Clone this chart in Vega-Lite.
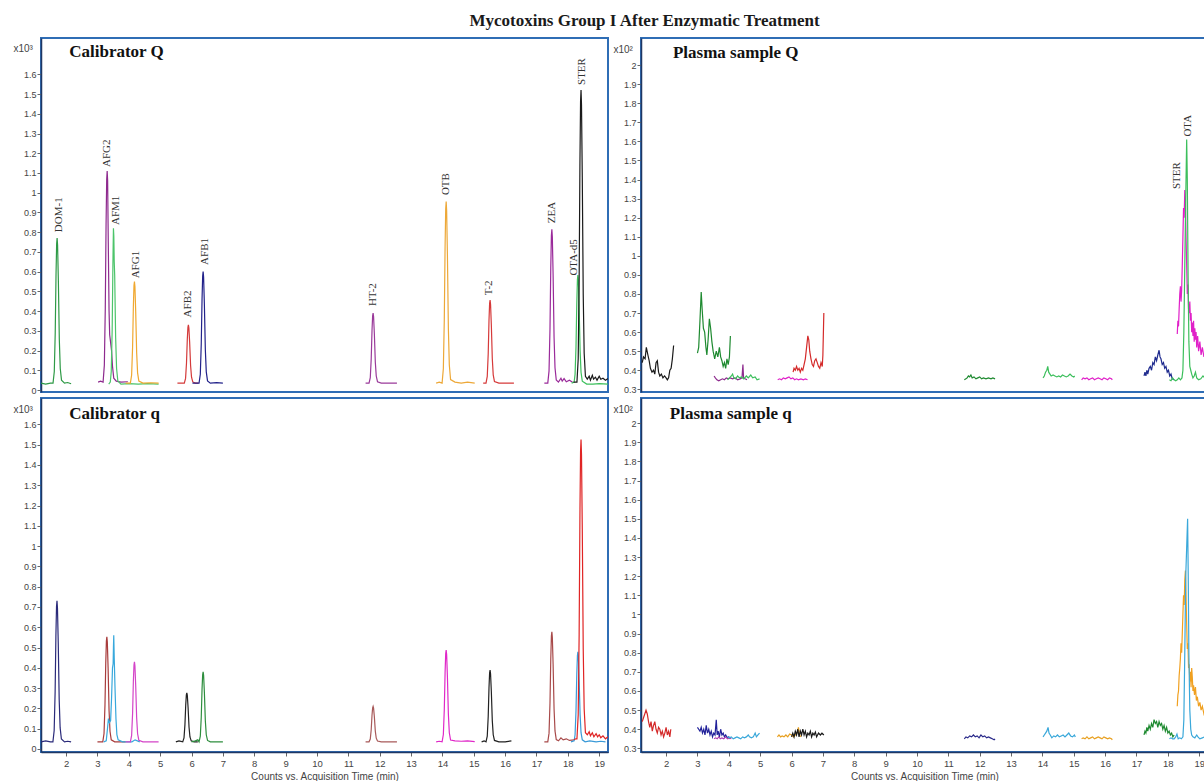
{
"$schema": "https://vega.github.io/schema/vega-lite/v6.json",
"padding": {"top": 12, "left": 0, "right": 0, "bottom": 0},
"background": "white",
"title": {"text": "Mycotoxins Group I After Enzymatic Treatment", "font": "Liberation Serif", "fontSize": 17, "fontWeight": "bold", "color": "#1a1a1a", "anchor": "middle", "dx": 40, "offset": 7},
"config": {
  "view": {"stroke": "#2f6db5", "strokeWidth": 2, "fill": "white"},
  "axis": {"labelFont": "Liberation Sans", "titleFont": "Liberation Sans", "grid": false, "labelColor": "#444", "titleColor": "#444", "tickColor": "#666", "domainColor": "#203864", "domainWidth": 1.5, "tickSize": 4}
},
"datasets": {
"A": [
{"s":"A1","t":1.2,"v":0.035},{"s":"A1","t":1.35,"v":0.03},{"s":"A1","t":1.5,"v":0.035},{"s":"A1","t":1.584,"v":0.035},{"s":"A1","t":1.624,"v":0.094},{"s":"A1","t":1.654,"v":0.292},{"s":"A1","t":1.679,"v":0.586},{"s":"A1","t":1.699,"v":0.741},{"s":"A1","t":1.714,"v":0.77},{"s":"A1","t":1.729,"v":0.733},{"s":"A1","t":1.754,"v":0.55},{"s":"A1","t":1.784,"v":0.256},{"s":"A1","t":1.814,"v":0.109},{"s":"A1","t":1.854,"v":0.05},{"s":"A1","t":1.95,"v":0.035},{"s":"A1","t":2.05,"v":0.038},{"s":"A1","t":2.16,"v":0.032},
{"s":"A2","t":3.02,"v":0.04},{"s":"A2","t":3.1,"v":0.045},{"s":"A2","t":3.18,"v":0.04},{"s":"A2","t":3.22,"v":0.126},{"s":"A2","t":3.25,"v":0.415},{"s":"A2","t":3.275,"v":0.843},{"s":"A2","t":3.295,"v":1.067},{"s":"A2","t":3.31,"v":1.11},{"s":"A2","t":3.325,"v":1.06},{"s":"A2","t":3.345,"v":0.75},{"s":"A2","t":3.37,"v":0.4},{"s":"A2","t":3.39,"v":0.28},{"s":"A2","t":3.42,"v":0.24},{"s":"A2","t":3.45,"v":0.2},{"s":"A2","t":3.48,"v":0.12},{"s":"A2","t":3.52,"v":0.06},{"s":"A2","t":3.6,"v":0.045},{"s":"A2","t":3.75,"v":0.04},{"s":"A2","t":3.97,"v":0.042},
{"s":"A3","t":3.36,"v":0.03},{"s":"A3","t":3.41,"v":0.04},{"s":"A3","t":3.44,"v":0.093},{"s":"A3","t":3.47,"v":0.307},{"s":"A3","t":3.492,"v":0.625},{"s":"A3","t":3.5,"v":0.72},{"s":"A3","t":3.51,"v":0.82},{"s":"A3","t":3.522,"v":0.78},{"s":"A3","t":3.535,"v":0.65},{"s":"A3","t":3.55,"v":0.58},{"s":"A3","t":3.58,"v":0.267},{"s":"A3","t":3.61,"v":0.109},{"s":"A3","t":3.65,"v":0.046},{"s":"A3","t":3.75,"v":0.03},{"s":"A3","t":4.0,"v":0.032},{"s":"A3","t":4.3,"v":0.03},{"s":"A3","t":4.6,"v":0.032},{"s":"A3","t":4.95,"v":0.03},
{"s":"A4","t":3.9,"v":0.035},{"s":"A4","t":4.0,"v":0.035},{"s":"A4","t":4.05,"v":0.035},{"s":"A4","t":4.09,"v":0.076},{"s":"A4","t":4.12,"v":0.215},{"s":"A4","t":4.145,"v":0.421},{"s":"A4","t":4.165,"v":0.529},{"s":"A4","t":4.18,"v":0.55},{"s":"A4","t":4.195,"v":0.524},{"s":"A4","t":4.22,"v":0.396},{"s":"A4","t":4.25,"v":0.19},{"s":"A4","t":4.28,"v":0.087},{"s":"A4","t":4.32,"v":0.045},{"s":"A4","t":4.45,"v":0.035},{"s":"A4","t":4.7,"v":0.037},{"s":"A4","t":4.95,"v":0.035},
{"s":"A5","t":5.55,"v":0.035},{"s":"A5","t":5.7,"v":0.035},{"s":"A5","t":5.77,"v":0.035},{"s":"A5","t":5.81,"v":0.059},{"s":"A5","t":5.84,"v":0.138},{"s":"A5","t":5.865,"v":0.256},{"s":"A5","t":5.885,"v":0.318},{"s":"A5","t":5.9,"v":0.33},{"s":"A5","t":5.915,"v":0.315},{"s":"A5","t":5.94,"v":0.242},{"s":"A5","t":5.97,"v":0.124},{"s":"A5","t":6.0,"v":0.065},{"s":"A5","t":6.04,"v":0.041},{"s":"A5","t":6.12,"v":0.035},{"s":"A5","t":6.22,"v":0.035},
{"s":"A6","t":6.03,"v":0.035},{"s":"A6","t":6.15,"v":0.035},{"s":"A6","t":6.24,"v":0.035},{"s":"A6","t":6.28,"v":0.08},{"s":"A6","t":6.31,"v":0.233},{"s":"A6","t":6.335,"v":0.459},{"s":"A6","t":6.355,"v":0.577},{"s":"A6","t":6.37,"v":0.6},{"s":"A6","t":6.385,"v":0.572},{"s":"A6","t":6.41,"v":0.431},{"s":"A6","t":6.44,"v":0.205},{"s":"A6","t":6.47,"v":0.092},{"s":"A6","t":6.51,"v":0.046},{"s":"A6","t":6.6,"v":0.035},{"s":"A6","t":6.8,"v":0.037},{"s":"A6","t":7.0,"v":0.035},
{"s":"A7","t":11.55,"v":0.035},{"s":"A7","t":11.62,"v":0.035},{"s":"A7","t":11.66,"v":0.035},{"s":"A7","t":11.7,"v":0.063},{"s":"A7","t":11.73,"v":0.159},{"s":"A7","t":11.755,"v":0.301},{"s":"A7","t":11.775,"v":0.376},{"s":"A7","t":11.79,"v":0.39},{"s":"A7","t":11.805,"v":0.372},{"s":"A7","t":11.83,"v":0.284},{"s":"A7","t":11.86,"v":0.142},{"s":"A7","t":11.89,"v":0.071},{"s":"A7","t":11.93,"v":0.042},{"s":"A7","t":12.05,"v":0.035},{"s":"A7","t":12.3,"v":0.035},{"s":"A7","t":12.55,"v":0.035},
{"s":"A8","t":13.8,"v":0.035},{"s":"A8","t":13.9,"v":0.04},{"s":"A8","t":13.99,"v":0.035},{"s":"A8","t":14.03,"v":0.109},{"s":"A8","t":14.06,"v":0.357},{"s":"A8","t":14.085,"v":0.725},{"s":"A8","t":14.105,"v":0.918},{"s":"A8","t":14.12,"v":0.955},{"s":"A8","t":14.135,"v":0.909},{"s":"A8","t":14.16,"v":0.679},{"s":"A8","t":14.19,"v":0.311},{"s":"A8","t":14.22,"v":0.127},{"s":"A8","t":14.26,"v":0.053},{"s":"A8","t":14.4,"v":0.04},{"s":"A8","t":14.6,"v":0.035},{"s":"A8","t":14.8,"v":0.04},{"s":"A8","t":15.03,"v":0.035},
{"s":"A9","t":15.3,"v":0.035},{"s":"A9","t":15.35,"v":0.035},{"s":"A9","t":15.39,"v":0.035},{"s":"A9","t":15.43,"v":0.069},{"s":"A9","t":15.46,"v":0.182},{"s":"A9","t":15.485,"v":0.351},{"s":"A9","t":15.505,"v":0.439},{"s":"A9","t":15.52,"v":0.456},{"s":"A9","t":15.535,"v":0.435},{"s":"A9","t":15.56,"v":0.33},{"s":"A9","t":15.59,"v":0.161},{"s":"A9","t":15.62,"v":0.077},{"s":"A9","t":15.66,"v":0.043},{"s":"A9","t":15.8,"v":0.035},{"s":"A9","t":16.0,"v":0.035},{"s":"A9","t":16.28,"v":0.035},
{"s":"A10","t":17.25,"v":0.035},{"s":"A10","t":17.32,"v":0.035},{"s":"A10","t":17.36,"v":0.035},{"s":"A10","t":17.4,"v":0.097},{"s":"A10","t":17.43,"v":0.308},{"s":"A10","t":17.455,"v":0.619},{"s":"A10","t":17.475,"v":0.783},{"s":"A10","t":17.49,"v":0.814},{"s":"A10","t":17.505,"v":0.775},{"s":"A10","t":17.53,"v":0.58},{"s":"A10","t":17.56,"v":0.269},{"s":"A10","t":17.59,"v":0.113},{"s":"A10","t":17.63,"v":0.051},{"s":"A10","t":17.7,"v":0.04},{"s":"A10","t":17.78,"v":0.06},{"s":"A10","t":17.82,"v":0.045},{"s":"A10","t":17.88,"v":0.058},{"s":"A10","t":17.95,"v":0.042},{"s":"A10","t":18.05,"v":0.05},{"s":"A10","t":18.15,"v":0.04},
{"s":"A11","t":18.12,"v":0.035},{"s":"A11","t":18.2,"v":0.04},{"s":"A11","t":18.23,"v":0.08},{"s":"A11","t":18.26,"v":0.22},{"s":"A11","t":18.285,"v":0.44},{"s":"A11","t":18.305,"v":0.56},{"s":"A11","t":18.32,"v":0.583},{"s":"A11","t":18.335,"v":0.56},{"s":"A11","t":18.36,"v":0.42},{"s":"A11","t":18.39,"v":0.2},{"s":"A11","t":18.42,"v":0.09},{"s":"A11","t":18.46,"v":0.045},{"s":"A11","t":18.6,"v":0.03},{"s":"A11","t":18.8,"v":0.03},{"s":"A11","t":19.0,"v":0.032},{"s":"A11","t":19.28,"v":0.03},
{"s":"A12","t":18.18,"v":0.04},{"s":"A12","t":18.25,"v":0.04},{"s":"A12","t":18.29,"v":0.04},{"s":"A12","t":18.33,"v":0.158},{"s":"A12","t":18.36,"v":0.558},{"s":"A12","t":18.385,"v":1.15},{"s":"A12","t":18.405,"v":1.461},{"s":"A12","t":18.42,"v":1.52},{"s":"A12","t":18.435,"v":1.446},{"s":"A12","t":18.46,"v":1.076},{"s":"A12","t":18.49,"v":0.484},{"s":"A12","t":18.52,"v":0.188},{"s":"A12","t":18.56,"v":0.07},{"s":"A12","t":18.62,"v":0.055},{"s":"A12","t":18.68,"v":0.07},{"s":"A12","t":18.72,"v":0.05},{"s":"A12","t":18.78,"v":0.075},{"s":"A12","t":18.82,"v":0.055},{"s":"A12","t":18.88,"v":0.065},{"s":"A12","t":18.93,"v":0.05},{"s":"A12","t":19.0,"v":0.07},{"s":"A12","t":19.05,"v":0.055},{"s":"A12","t":19.12,"v":0.06},{"s":"A12","t":19.2,"v":0.05},{"s":"A12","t":19.28,"v":0.058}
],
"B": [
{"s":"B1","t":1.24,"v":0.44},{"s":"B1","t":1.28,"v":0.47},{"s":"B1","t":1.33,"v":0.46},{"s":"B1","t":1.37,"v":0.52},{"s":"B1","t":1.42,"v":0.48},{"s":"B1","t":1.46,"v":0.45},{"s":"B1","t":1.5,"v":0.41},{"s":"B1","t":1.55,"v":0.39},{"s":"B1","t":1.6,"v":0.4},{"s":"B1","t":1.64,"v":0.38},{"s":"B1","t":1.68,"v":0.44},{"s":"B1","t":1.72,"v":0.45},{"s":"B1","t":1.76,"v":0.39},{"s":"B1","t":1.8,"v":0.37},{"s":"B1","t":1.85,"v":0.38},{"s":"B1","t":1.9,"v":0.36},{"s":"B1","t":1.95,"v":0.37},{"s":"B1","t":2.0,"v":0.36},{"s":"B1","t":2.04,"v":0.35},{"s":"B1","t":2.08,"v":0.36},{"s":"B1","t":2.12,"v":0.4},{"s":"B1","t":2.16,"v":0.41},{"s":"B1","t":2.2,"v":0.46},{"s":"B1","t":2.24,"v":0.53},
{"s":"B2","t":3.0,"v":0.49},{"s":"B2","t":3.04,"v":0.52},{"s":"B2","t":3.08,"v":0.66},{"s":"B2","t":3.12,"v":0.81},{"s":"B2","t":3.15,"v":0.72},{"s":"B2","t":3.19,"v":0.62},{"s":"B2","t":3.23,"v":0.6},{"s":"B2","t":3.27,"v":0.52},{"s":"B2","t":3.3,"v":0.48},{"s":"B2","t":3.34,"v":0.56},{"s":"B2","t":3.38,"v":0.67},{"s":"B2","t":3.42,"v":0.62},{"s":"B2","t":3.46,"v":0.55},{"s":"B2","t":3.5,"v":0.5},{"s":"B2","t":3.55,"v":0.46},{"s":"B2","t":3.6,"v":0.5},{"s":"B2","t":3.65,"v":0.47},{"s":"B2","t":3.7,"v":0.52},{"s":"B2","t":3.74,"v":0.47},{"s":"B2","t":3.78,"v":0.45},{"s":"B2","t":3.82,"v":0.42},{"s":"B2","t":3.86,"v":0.44},{"s":"B2","t":3.9,"v":0.41},{"s":"B2","t":3.94,"v":0.46},{"s":"B2","t":3.98,"v":0.43},{"s":"B2","t":4.02,"v":0.47},{"s":"B2","t":4.05,"v":0.58},
{"s":"B3","t":3.53,"v":0.37},{"s":"B3","t":3.57,"v":0.36},{"s":"B3","t":3.62,"v":0.35},{"s":"B3","t":3.68,"v":0.345},{"s":"B3","t":3.74,"v":0.35},{"s":"B3","t":3.8,"v":0.355},{"s":"B3","t":3.86,"v":0.35},{"s":"B3","t":3.92,"v":0.36},{"s":"B3","t":3.98,"v":0.355},{"s":"B3","t":4.05,"v":0.36},{"s":"B3","t":4.12,"v":0.355},{"s":"B3","t":4.2,"v":0.36},{"s":"B3","t":4.28,"v":0.35},{"s":"B3","t":4.36,"v":0.355},{"s":"B3","t":4.42,"v":0.36},{"s":"B3","t":4.45,"v":0.43},{"s":"B3","t":4.47,"v":0.36},{"s":"B3","t":4.52,"v":0.355},{"s":"B3","t":4.58,"v":0.35},
{"s":"B4","t":3.96,"v":0.35},{"s":"B4","t":4.02,"v":0.36},{"s":"B4","t":4.08,"v":0.37},{"s":"B4","t":4.12,"v":0.38},{"s":"B4","t":4.16,"v":0.36},{"s":"B4","t":4.22,"v":0.355},{"s":"B4","t":4.28,"v":0.37},{"s":"B4","t":4.34,"v":0.36},{"s":"B4","t":4.4,"v":0.365},{"s":"B4","t":4.48,"v":0.355},{"s":"B4","t":4.56,"v":0.37},{"s":"B4","t":4.62,"v":0.36},{"s":"B4","t":4.7,"v":0.375},{"s":"B4","t":4.76,"v":0.36},{"s":"B4","t":4.84,"v":0.365},{"s":"B4","t":4.9,"v":0.35},{"s":"B4","t":4.98,"v":0.355},
{"s":"B5","t":5.56,"v":0.35},{"s":"B5","t":5.62,"v":0.355},{"s":"B5","t":5.68,"v":0.35},{"s":"B5","t":5.74,"v":0.36},{"s":"B5","t":5.8,"v":0.355},{"s":"B5","t":5.86,"v":0.36},{"s":"B5","t":5.92,"v":0.365},{"s":"B5","t":5.98,"v":0.355},{"s":"B5","t":6.04,"v":0.36},{"s":"B5","t":6.1,"v":0.35},{"s":"B5","t":6.16,"v":0.355},{"s":"B5","t":6.22,"v":0.35},{"s":"B5","t":6.3,"v":0.355},{"s":"B5","t":6.38,"v":0.35},{"s":"B5","t":6.44,"v":0.355},{"s":"B5","t":6.51,"v":0.35},
{"s":"B6","t":6.05,"v":0.39},{"s":"B6","t":6.08,"v":0.41},{"s":"B6","t":6.12,"v":0.4},{"s":"B6","t":6.16,"v":0.42},{"s":"B6","t":6.2,"v":0.4},{"s":"B6","t":6.24,"v":0.41},{"s":"B6","t":6.28,"v":0.39},{"s":"B6","t":6.32,"v":0.41},{"s":"B6","t":6.36,"v":0.4},{"s":"B6","t":6.4,"v":0.43},{"s":"B6","t":6.44,"v":0.46},{"s":"B6","t":6.48,"v":0.52},{"s":"B6","t":6.52,"v":0.58},{"s":"B6","t":6.55,"v":0.56},{"s":"B6","t":6.58,"v":0.5},{"s":"B6","t":6.62,"v":0.46},{"s":"B6","t":6.66,"v":0.43},{"s":"B6","t":6.7,"v":0.42},{"s":"B6","t":6.74,"v":0.45},{"s":"B6","t":6.78,"v":0.46},{"s":"B6","t":6.82,"v":0.44},{"s":"B6","t":6.86,"v":0.42},{"s":"B6","t":6.9,"v":0.41},{"s":"B6","t":6.94,"v":0.44},{"s":"B6","t":6.98,"v":0.42},{"s":"B6","t":7.0,"v":0.48},{"s":"B6","t":7.03,"v":0.7},
{"s":"B7","t":11.51,"v":0.35},{"s":"B7","t":11.56,"v":0.355},{"s":"B7","t":11.6,"v":0.36},{"s":"B7","t":11.64,"v":0.37},{"s":"B7","t":11.68,"v":0.365},{"s":"B7","t":11.72,"v":0.375},{"s":"B7","t":11.76,"v":0.36},{"s":"B7","t":11.82,"v":0.365},{"s":"B7","t":11.88,"v":0.355},{"s":"B7","t":11.94,"v":0.36},{"s":"B7","t":12.0,"v":0.365},{"s":"B7","t":12.06,"v":0.355},{"s":"B7","t":12.12,"v":0.36},{"s":"B7","t":12.2,"v":0.355},{"s":"B7","t":12.28,"v":0.36},{"s":"B7","t":12.36,"v":0.355},{"s":"B7","t":12.42,"v":0.36},{"s":"B7","t":12.49,"v":0.355},
{"s":"B8","t":14.02,"v":0.36},{"s":"B8","t":14.06,"v":0.37},{"s":"B8","t":14.1,"v":0.39},{"s":"B8","t":14.14,"v":0.4},{"s":"B8","t":14.17,"v":0.42},{"s":"B8","t":14.2,"v":0.39},{"s":"B8","t":14.24,"v":0.38},{"s":"B8","t":14.28,"v":0.37},{"s":"B8","t":14.34,"v":0.375},{"s":"B8","t":14.4,"v":0.37},{"s":"B8","t":14.46,"v":0.365},{"s":"B8","t":14.52,"v":0.37},{"s":"B8","t":14.58,"v":0.365},{"s":"B8","t":14.64,"v":0.375},{"s":"B8","t":14.7,"v":0.37},{"s":"B8","t":14.76,"v":0.365},{"s":"B8","t":14.82,"v":0.37},{"s":"B8","t":14.88,"v":0.38},{"s":"B8","t":14.94,"v":0.37},{"s":"B8","t":15.0,"v":0.365},{"s":"B8","t":15.03,"v":0.37},
{"s":"B9","t":15.25,"v":0.35},{"s":"B9","t":15.3,"v":0.36},{"s":"B9","t":15.36,"v":0.355},{"s":"B9","t":15.42,"v":0.36},{"s":"B9","t":15.48,"v":0.35},{"s":"B9","t":15.54,"v":0.355},{"s":"B9","t":15.6,"v":0.36},{"s":"B9","t":15.66,"v":0.35},{"s":"B9","t":15.72,"v":0.355},{"s":"B9","t":15.78,"v":0.36},{"s":"B9","t":15.84,"v":0.355},{"s":"B9","t":15.9,"v":0.35},{"s":"B9","t":15.96,"v":0.36},{"s":"B9","t":16.02,"v":0.355},{"s":"B9","t":16.08,"v":0.35},{"s":"B9","t":16.14,"v":0.36},{"s":"B9","t":16.2,"v":0.355},{"s":"B9","t":16.23,"v":0.35},
{"s":"B10","t":17.24,"v":0.37},{"s":"B10","t":17.27,"v":0.39},{"s":"B10","t":17.3,"v":0.37},{"s":"B10","t":17.33,"v":0.4},{"s":"B10","t":17.36,"v":0.38},{"s":"B10","t":17.4,"v":0.41},{"s":"B10","t":17.44,"v":0.42},{"s":"B10","t":17.48,"v":0.4},{"s":"B10","t":17.52,"v":0.44},{"s":"B10","t":17.56,"v":0.43},{"s":"B10","t":17.6,"v":0.47},{"s":"B10","t":17.64,"v":0.45},{"s":"B10","t":17.68,"v":0.48},{"s":"B10","t":17.72,"v":0.505},{"s":"B10","t":17.75,"v":0.47},{"s":"B10","t":17.78,"v":0.46},{"s":"B10","t":17.82,"v":0.43},{"s":"B10","t":17.86,"v":0.44},{"s":"B10","t":17.9,"v":0.41},{"s":"B10","t":17.94,"v":0.42},{"s":"B10","t":17.98,"v":0.39},{"s":"B10","t":18.02,"v":0.4},{"s":"B10","t":18.06,"v":0.37},{"s":"B10","t":18.1,"v":0.38},{"s":"B10","t":18.14,"v":0.355},{"s":"B10","t":18.2,"v":0.35},
{"s":"B11","t":18.3,"v":0.59},{"s":"B11","t":18.32,"v":0.66},{"s":"B11","t":18.34,"v":0.63},{"s":"B11","t":18.36,"v":0.72},{"s":"B11","t":18.38,"v":0.8},{"s":"B11","t":18.4,"v":0.84},{"s":"B11","t":18.42,"v":0.76},{"s":"B11","t":18.44,"v":0.82},{"s":"B11","t":18.46,"v":0.95},{"s":"B11","t":18.48,"v":1.1},{"s":"B11","t":18.5,"v":1.25},{"s":"B11","t":18.52,"v":1.2},{"s":"B11","t":18.54,"v":1.345},{"s":"B11","t":18.56,"v":1.3},{"s":"B11","t":18.58,"v":1.1},{"s":"B11","t":18.6,"v":0.95},{"s":"B11","t":18.62,"v":0.8},{"s":"B11","t":18.64,"v":0.85},{"s":"B11","t":18.66,"v":0.72},{"s":"B11","t":18.68,"v":0.7},{"s":"B11","t":18.7,"v":0.76},{"s":"B11","t":18.72,"v":0.66},{"s":"B11","t":18.74,"v":0.7},{"s":"B11","t":18.76,"v":0.6},{"s":"B11","t":18.78,"v":0.65},{"s":"B11","t":18.8,"v":0.58},{"s":"B11","t":18.82,"v":0.66},{"s":"B11","t":18.84,"v":0.55},{"s":"B11","t":18.86,"v":0.62},{"s":"B11","t":18.88,"v":0.56},{"s":"B11","t":18.9,"v":0.6},{"s":"B11","t":18.92,"v":0.52},{"s":"B11","t":18.95,"v":0.58},{"s":"B11","t":18.98,"v":0.5},{"s":"B11","t":19.02,"v":0.55},{"s":"B11","t":19.06,"v":0.48},{"s":"B11","t":19.1,"v":0.52},{"s":"B11","t":19.15,"v":0.47},{"s":"B11","t":19.2,"v":0.5},{"s":"B11","t":19.28,"v":0.46},
{"s":"B12","t":18.05,"v":0.35},{"s":"B12","t":18.1,"v":0.345},{"s":"B12","t":18.15,"v":0.36},{"s":"B12","t":18.2,"v":0.35},{"s":"B12","t":18.25,"v":0.345},{"s":"B12","t":18.3,"v":0.35},{"s":"B12","t":18.35,"v":0.36},{"s":"B12","t":18.4,"v":0.35},{"s":"B12","t":18.45,"v":0.36},{"s":"B12","t":18.48,"v":0.4},{"s":"B12","t":18.51,"v":0.6},{"s":"B12","t":18.54,"v":0.95},{"s":"B12","t":18.57,"v":1.3},{"s":"B12","t":18.6,"v":1.61},{"s":"B12","t":18.62,"v":1.4},{"s":"B12","t":18.645,"v":0.9},{"s":"B12","t":18.67,"v":0.55},{"s":"B12","t":18.7,"v":0.42},{"s":"B12","t":18.73,"v":0.4},{"s":"B12","t":18.76,"v":0.38},{"s":"B12","t":18.8,"v":0.36},{"s":"B12","t":18.84,"v":0.37},{"s":"B12","t":18.88,"v":0.39},{"s":"B12","t":18.92,"v":0.36},{"s":"B12","t":18.98,"v":0.35},{"s":"B12","t":19.05,"v":0.355},{"s":"B12","t":19.12,"v":0.37},{"s":"B12","t":19.2,"v":0.355},{"s":"B12","t":19.28,"v":0.36}
],
"C": [
{"s":"C1","t":1.2,"v":0.035},{"s":"C1","t":1.35,"v":0.04},{"s":"C1","t":1.5,"v":0.035},{"s":"C1","t":1.58,"v":0.035},{"s":"C1","t":1.62,"v":0.091},{"s":"C1","t":1.65,"v":0.278},{"s":"C1","t":1.675,"v":0.556},{"s":"C1","t":1.695,"v":0.702},{"s":"C1","t":1.71,"v":0.73},{"s":"C1","t":1.725,"v":0.695},{"s":"C1","t":1.75,"v":0.522},{"s":"C1","t":1.78,"v":0.244},{"s":"C1","t":1.81,"v":0.105},{"s":"C1","t":1.85,"v":0.049},{"s":"C1","t":1.95,"v":0.035},{"s":"C1","t":2.05,"v":0.038},{"s":"C1","t":2.16,"v":0.035},
{"s":"C2","t":3.0,"v":0.035},{"s":"C2","t":3.1,"v":0.035},{"s":"C2","t":3.17,"v":0.035},{"s":"C2","t":3.21,"v":0.076},{"s":"C2","t":3.24,"v":0.216},{"s":"C2","t":3.265,"v":0.424},{"s":"C2","t":3.285,"v":0.532},{"s":"C2","t":3.3,"v":0.553},{"s":"C2","t":3.315,"v":0.527},{"s":"C2","t":3.34,"v":0.398},{"s":"C2","t":3.37,"v":0.19},{"s":"C2","t":3.4,"v":0.087},{"s":"C2","t":3.44,"v":0.045},{"s":"C2","t":3.55,"v":0.035},{"s":"C2","t":3.7,"v":0.035},{"s":"C2","t":3.9,"v":0.035},
{"s":"C3","t":3.2,"v":0.035},{"s":"C3","t":3.28,"v":0.04},{"s":"C3","t":3.32,"v":0.1},{"s":"C3","t":3.35,"v":0.15},{"s":"C3","t":3.38,"v":0.13},{"s":"C3","t":3.42,"v":0.14},{"s":"C3","t":3.45,"v":0.25},{"s":"C3","t":3.48,"v":0.4},{"s":"C3","t":3.5,"v":0.42},{"s":"C3","t":3.51,"v":0.5},{"s":"C3","t":3.52,"v":0.56},{"s":"C3","t":3.535,"v":0.45},{"s":"C3","t":3.56,"v":0.3},{"s":"C3","t":3.59,"v":0.15},{"s":"C3","t":3.62,"v":0.07},{"s":"C3","t":3.66,"v":0.045},{"s":"C3","t":3.8,"v":0.035},{"s":"C3","t":4.1,"v":0.035},{"s":"C3","t":4.2,"v":0.045},{"s":"C3","t":4.35,"v":0.035},
{"s":"C4","t":3.9,"v":0.035},{"s":"C4","t":4.0,"v":0.035},{"s":"C4","t":4.05,"v":0.035},{"s":"C4","t":4.09,"v":0.067},{"s":"C4","t":4.12,"v":0.173},{"s":"C4","t":4.145,"v":0.331},{"s":"C4","t":4.165,"v":0.414},{"s":"C4","t":4.18,"v":0.43},{"s":"C4","t":4.195,"v":0.41},{"s":"C4","t":4.22,"v":0.312},{"s":"C4","t":4.25,"v":0.154},{"s":"C4","t":4.28,"v":0.075},{"s":"C4","t":4.32,"v":0.043},{"s":"C4","t":4.45,"v":0.035},{"s":"C4","t":4.7,"v":0.035},{"s":"C4","t":4.95,"v":0.035},
{"s":"C5","t":5.5,"v":0.035},{"s":"C5","t":5.6,"v":0.04},{"s":"C5","t":5.72,"v":0.035},{"s":"C5","t":5.76,"v":0.054},{"s":"C5","t":5.79,"v":0.12},{"s":"C5","t":5.815,"v":0.217},{"s":"C5","t":5.835,"v":0.267},{"s":"C5","t":5.85,"v":0.277},{"s":"C5","t":5.865,"v":0.265},{"s":"C5","t":5.89,"v":0.204},{"s":"C5","t":5.92,"v":0.108},{"s":"C5","t":5.95,"v":0.059},{"s":"C5","t":5.99,"v":0.04},{"s":"C5","t":6.08,"v":0.035},{"s":"C5","t":6.2,"v":0.035},
{"s":"C6","t":6.0,"v":0.035},{"s":"C6","t":6.12,"v":0.04},{"s":"C6","t":6.2,"v":0.045},{"s":"C6","t":6.24,"v":0.035},{"s":"C6","t":6.28,"v":0.063},{"s":"C6","t":6.31,"v":0.156},{"s":"C6","t":6.335,"v":0.294},{"s":"C6","t":6.355,"v":0.366},{"s":"C6","t":6.37,"v":0.38},{"s":"C6","t":6.385,"v":0.363},{"s":"C6","t":6.41,"v":0.277},{"s":"C6","t":6.44,"v":0.139},{"s":"C6","t":6.47,"v":0.07},{"s":"C6","t":6.51,"v":0.042},{"s":"C6","t":6.6,"v":0.035},{"s":"C6","t":6.8,"v":0.035},{"s":"C6","t":7.0,"v":0.035},
{"s":"C7","t":11.55,"v":0.035},{"s":"C7","t":11.62,"v":0.035},{"s":"C7","t":11.66,"v":0.035},{"s":"C7","t":11.7,"v":0.049},{"s":"C7","t":11.73,"v":0.096},{"s":"C7","t":11.755,"v":0.166},{"s":"C7","t":11.775,"v":0.203},{"s":"C7","t":11.79,"v":0.21},{"s":"C7","t":11.805,"v":0.201},{"s":"C7","t":11.83,"v":0.158},{"s":"C7","t":11.86,"v":0.088},{"s":"C7","t":11.89,"v":0.053},{"s":"C7","t":11.93,"v":0.039},{"s":"C7","t":12.05,"v":0.035},{"s":"C7","t":12.3,"v":0.035},{"s":"C7","t":12.55,"v":0.035},
{"s":"C8","t":13.8,"v":0.035},{"s":"C8","t":13.9,"v":0.038},{"s":"C8","t":13.99,"v":0.035},{"s":"C8","t":14.03,"v":0.071},{"s":"C8","t":14.06,"v":0.194},{"s":"C8","t":14.085,"v":0.375},{"s":"C8","t":14.105,"v":0.47},{"s":"C8","t":14.12,"v":0.488},{"s":"C8","t":14.135,"v":0.465},{"s":"C8","t":14.16,"v":0.352},{"s":"C8","t":14.19,"v":0.171},{"s":"C8","t":14.22,"v":0.08},{"s":"C8","t":14.26,"v":0.044},{"s":"C8","t":14.4,"v":0.04},{"s":"C8","t":14.6,"v":0.038},{"s":"C8","t":14.8,"v":0.04},{"s":"C8","t":15.03,"v":0.036},
{"s":"C9","t":15.25,"v":0.035},{"s":"C9","t":15.33,"v":0.04},{"s":"C9","t":15.39,"v":0.035},{"s":"C9","t":15.43,"v":0.063},{"s":"C9","t":15.46,"v":0.159},{"s":"C9","t":15.485,"v":0.301},{"s":"C9","t":15.505,"v":0.375},{"s":"C9","t":15.52,"v":0.389},{"s":"C9","t":15.535,"v":0.371},{"s":"C9","t":15.56,"v":0.283},{"s":"C9","t":15.59,"v":0.141},{"s":"C9","t":15.62,"v":0.07},{"s":"C9","t":15.66,"v":0.042},{"s":"C9","t":15.8,"v":0.035},{"s":"C9","t":16.0,"v":0.035},{"s":"C9","t":16.2,"v":0.04},
{"s":"C10","t":17.25,"v":0.035},{"s":"C10","t":17.32,"v":0.035},{"s":"C10","t":17.36,"v":0.035},{"s":"C10","t":17.4,"v":0.078},{"s":"C10","t":17.43,"v":0.225},{"s":"C10","t":17.455,"v":0.442},{"s":"C10","t":17.475,"v":0.556},{"s":"C10","t":17.49,"v":0.578},{"s":"C10","t":17.505,"v":0.551},{"s":"C10","t":17.53,"v":0.415},{"s":"C10","t":17.56,"v":0.198},{"s":"C10","t":17.59,"v":0.089},{"s":"C10","t":17.63,"v":0.046},{"s":"C10","t":17.7,"v":0.04},{"s":"C10","t":17.78,"v":0.055},{"s":"C10","t":17.85,"v":0.045},{"s":"C10","t":17.95,"v":0.05},{"s":"C10","t":18.05,"v":0.042},{"s":"C10","t":18.2,"v":0.045},
{"s":"C11","t":18.1,"v":0.035},{"s":"C11","t":18.2,"v":0.04},{"s":"C11","t":18.23,"v":0.07},{"s":"C11","t":18.26,"v":0.19},{"s":"C11","t":18.285,"v":0.37},{"s":"C11","t":18.305,"v":0.46},{"s":"C11","t":18.32,"v":0.479},{"s":"C11","t":18.335,"v":0.46},{"s":"C11","t":18.36,"v":0.34},{"s":"C11","t":18.39,"v":0.17},{"s":"C11","t":18.42,"v":0.08},{"s":"C11","t":18.46,"v":0.045},{"s":"C11","t":18.55,"v":0.035},{"s":"C11","t":18.7,"v":0.04},{"s":"C11","t":18.9,"v":0.035},{"s":"C11","t":19.05,"v":0.038},{"s":"C11","t":19.2,"v":0.035},
{"s":"C12","t":18.2,"v":0.045},{"s":"C12","t":18.25,"v":0.05},{"s":"C12","t":18.29,"v":0.05},{"s":"C12","t":18.33,"v":0.168},{"s":"C12","t":18.36,"v":0.566},{"s":"C12","t":18.385,"v":1.156},{"s":"C12","t":18.405,"v":1.466},{"s":"C12","t":18.42,"v":1.525},{"s":"C12","t":18.435,"v":1.451},{"s":"C12","t":18.46,"v":1.083},{"s":"C12","t":18.49,"v":0.493},{"s":"C12","t":18.52,"v":0.198},{"s":"C12","t":18.56,"v":0.08},{"s":"C12","t":18.62,"v":0.07},{"s":"C12","t":18.68,"v":0.085},{"s":"C12","t":18.72,"v":0.065},{"s":"C12","t":18.78,"v":0.08},{"s":"C12","t":18.83,"v":0.06},{"s":"C12","t":18.9,"v":0.075},{"s":"C12","t":18.95,"v":0.06},{"s":"C12","t":19.0,"v":0.07},{"s":"C12","t":19.05,"v":0.055},{"s":"C12","t":19.12,"v":0.065},{"s":"C12","t":19.2,"v":0.05},{"s":"C12","t":19.28,"v":0.06}
],
"D": [
{"s":"D1","t":1.24,"v":0.44},{"s":"D1","t":1.28,"v":0.46},{"s":"D1","t":1.32,"v":0.48},{"s":"D1","t":1.36,"v":0.5},{"s":"D1","t":1.4,"v":0.48},{"s":"D1","t":1.44,"v":0.44},{"s":"D1","t":1.48,"v":0.41},{"s":"D1","t":1.52,"v":0.44},{"s":"D1","t":1.56,"v":0.39},{"s":"D1","t":1.6,"v":0.42},{"s":"D1","t":1.64,"v":0.44},{"s":"D1","t":1.68,"v":0.4},{"s":"D1","t":1.72,"v":0.38},{"s":"D1","t":1.76,"v":0.41},{"s":"D1","t":1.8,"v":0.4},{"s":"D1","t":1.84,"v":0.37},{"s":"D1","t":1.88,"v":0.39},{"s":"D1","t":1.92,"v":0.36},{"s":"D1","t":1.96,"v":0.38},{"s":"D1","t":2.0,"v":0.41},{"s":"D1","t":2.04,"v":0.37},{"s":"D1","t":2.08,"v":0.39},{"s":"D1","t":2.12,"v":0.36},{"s":"D1","t":2.15,"v":0.4},
{"s":"D2","t":3.0,"v":0.41},{"s":"D2","t":3.04,"v":0.4},{"s":"D2","t":3.08,"v":0.39},{"s":"D2","t":3.12,"v":0.41},{"s":"D2","t":3.16,"v":0.38},{"s":"D2","t":3.2,"v":0.4},{"s":"D2","t":3.24,"v":0.37},{"s":"D2","t":3.28,"v":0.42},{"s":"D2","t":3.32,"v":0.38},{"s":"D2","t":3.36,"v":0.4},{"s":"D2","t":3.4,"v":0.37},{"s":"D2","t":3.44,"v":0.39},{"s":"D2","t":3.48,"v":0.36},{"s":"D2","t":3.52,"v":0.38},{"s":"D2","t":3.56,"v":0.37},{"s":"D2","t":3.6,"v":0.45},{"s":"D2","t":3.63,"v":0.37},{"s":"D2","t":3.66,"v":0.39},{"s":"D2","t":3.7,"v":0.36},{"s":"D2","t":3.74,"v":0.4},{"s":"D2","t":3.78,"v":0.37},{"s":"D2","t":3.82,"v":0.38},{"s":"D2","t":3.86,"v":0.36},{"s":"D2","t":3.9,"v":0.37},{"s":"D2","t":3.95,"v":0.355},{"s":"D2","t":4.0,"v":0.36},{"s":"D2","t":4.04,"v":0.35},
{"s":"D3","t":3.53,"v":0.35},{"s":"D3","t":3.58,"v":0.355},{"s":"D3","t":3.63,"v":0.35},{"s":"D3","t":3.68,"v":0.36},{"s":"D3","t":3.73,"v":0.35},{"s":"D3","t":3.78,"v":0.355},{"s":"D3","t":3.84,"v":0.35},{"s":"D3","t":3.9,"v":0.36},{"s":"D3","t":3.96,"v":0.35},{"s":"D3","t":4.02,"v":0.355},{"s":"D3","t":4.08,"v":0.35},
{"s":"D4","t":3.96,"v":0.36},{"s":"D4","t":4.02,"v":0.355},{"s":"D4","t":4.08,"v":0.36},{"s":"D4","t":4.14,"v":0.35},{"s":"D4","t":4.2,"v":0.355},{"s":"D4","t":4.26,"v":0.36},{"s":"D4","t":4.32,"v":0.355},{"s":"D4","t":4.38,"v":0.35},{"s":"D4","t":4.44,"v":0.36},{"s":"D4","t":4.5,"v":0.355},{"s":"D4","t":4.56,"v":0.36},{"s":"D4","t":4.62,"v":0.37},{"s":"D4","t":4.66,"v":0.36},{"s":"D4","t":4.72,"v":0.355},{"s":"D4","t":4.78,"v":0.36},{"s":"D4","t":4.84,"v":0.38},{"s":"D4","t":4.88,"v":0.36},{"s":"D4","t":4.93,"v":0.37},{"s":"D4","t":4.98,"v":0.38},
{"s":"D5","t":5.55,"v":0.36},{"s":"D5","t":5.6,"v":0.37},{"s":"D5","t":5.65,"v":0.36},{"s":"D5","t":5.7,"v":0.365},{"s":"D5","t":5.76,"v":0.36},{"s":"D5","t":5.82,"v":0.37},{"s":"D5","t":5.88,"v":0.36},{"s":"D5","t":5.94,"v":0.375},{"s":"D5","t":6.0,"v":0.37},{"s":"D5","t":6.06,"v":0.36},{"s":"D5","t":6.12,"v":0.37},{"s":"D5","t":6.18,"v":0.38},{"s":"D5","t":6.22,"v":0.41},{"s":"D5","t":6.26,"v":0.37},{"s":"D5","t":6.3,"v":0.36},
{"s":"D6","t":6.0,"v":0.36},{"s":"D6","t":6.04,"v":0.38},{"s":"D6","t":6.08,"v":0.36},{"s":"D6","t":6.12,"v":0.39},{"s":"D6","t":6.16,"v":0.37},{"s":"D6","t":6.2,"v":0.4},{"s":"D6","t":6.24,"v":0.36},{"s":"D6","t":6.28,"v":0.39},{"s":"D6","t":6.32,"v":0.37},{"s":"D6","t":6.36,"v":0.4},{"s":"D6","t":6.4,"v":0.37},{"s":"D6","t":6.44,"v":0.39},{"s":"D6","t":6.48,"v":0.36},{"s":"D6","t":6.52,"v":0.38},{"s":"D6","t":6.56,"v":0.37},{"s":"D6","t":6.6,"v":0.39},{"s":"D6","t":6.64,"v":0.36},{"s":"D6","t":6.68,"v":0.38},{"s":"D6","t":6.72,"v":0.37},{"s":"D6","t":6.76,"v":0.385},{"s":"D6","t":6.8,"v":0.36},{"s":"D6","t":6.86,"v":0.38},{"s":"D6","t":6.92,"v":0.37},{"s":"D6","t":6.97,"v":0.38},{"s":"D6","t":7.03,"v":0.37},
{"s":"D7","t":11.51,"v":0.35},{"s":"D7","t":11.56,"v":0.36},{"s":"D7","t":11.62,"v":0.355},{"s":"D7","t":11.68,"v":0.365},{"s":"D7","t":11.74,"v":0.36},{"s":"D7","t":11.8,"v":0.37},{"s":"D7","t":11.86,"v":0.36},{"s":"D7","t":11.92,"v":0.365},{"s":"D7","t":11.98,"v":0.355},{"s":"D7","t":12.04,"v":0.37},{"s":"D7","t":12.1,"v":0.36},{"s":"D7","t":12.16,"v":0.365},{"s":"D7","t":12.22,"v":0.355},{"s":"D7","t":12.28,"v":0.36},{"s":"D7","t":12.34,"v":0.355},{"s":"D7","t":12.4,"v":0.35},{"s":"D7","t":12.46,"v":0.345},{"s":"D7","t":12.49,"v":0.35},
{"s":"D8","t":14.02,"v":0.36},{"s":"D8","t":14.06,"v":0.37},{"s":"D8","t":14.1,"v":0.38},{"s":"D8","t":14.14,"v":0.39},{"s":"D8","t":14.18,"v":0.41},{"s":"D8","t":14.21,"v":0.38},{"s":"D8","t":14.25,"v":0.37},{"s":"D8","t":14.3,"v":0.355},{"s":"D8","t":14.36,"v":0.365},{"s":"D8","t":14.42,"v":0.36},{"s":"D8","t":14.48,"v":0.37},{"s":"D8","t":14.54,"v":0.36},{"s":"D8","t":14.6,"v":0.365},{"s":"D8","t":14.66,"v":0.37},{"s":"D8","t":14.72,"v":0.36},{"s":"D8","t":14.78,"v":0.37},{"s":"D8","t":14.84,"v":0.38},{"s":"D8","t":14.9,"v":0.365},{"s":"D8","t":14.96,"v":0.36},{"s":"D8","t":15.02,"v":0.37},{"s":"D8","t":15.05,"v":0.36},
{"s":"D9","t":15.25,"v":0.35},{"s":"D9","t":15.3,"v":0.355},{"s":"D9","t":15.36,"v":0.35},{"s":"D9","t":15.42,"v":0.36},{"s":"D9","t":15.48,"v":0.35},{"s":"D9","t":15.54,"v":0.355},{"s":"D9","t":15.6,"v":0.36},{"s":"D9","t":15.66,"v":0.35},{"s":"D9","t":15.72,"v":0.355},{"s":"D9","t":15.78,"v":0.36},{"s":"D9","t":15.84,"v":0.355},{"s":"D9","t":15.9,"v":0.35},{"s":"D9","t":15.96,"v":0.36},{"s":"D9","t":16.02,"v":0.355},{"s":"D9","t":16.08,"v":0.35},{"s":"D9","t":16.14,"v":0.355},{"s":"D9","t":16.2,"v":0.35},{"s":"D9","t":16.23,"v":0.345},
{"s":"D10","t":17.24,"v":0.37},{"s":"D10","t":17.27,"v":0.39},{"s":"D10","t":17.3,"v":0.38},{"s":"D10","t":17.33,"v":0.41},{"s":"D10","t":17.36,"v":0.39},{"s":"D10","t":17.4,"v":0.42},{"s":"D10","t":17.44,"v":0.4},{"s":"D10","t":17.48,"v":0.43},{"s":"D10","t":17.52,"v":0.41},{"s":"D10","t":17.56,"v":0.45},{"s":"D10","t":17.6,"v":0.43},{"s":"D10","t":17.64,"v":0.44},{"s":"D10","t":17.68,"v":0.41},{"s":"D10","t":17.72,"v":0.44},{"s":"D10","t":17.76,"v":0.42},{"s":"D10","t":17.8,"v":0.43},{"s":"D10","t":17.84,"v":0.4},{"s":"D10","t":17.88,"v":0.42},{"s":"D10","t":17.92,"v":0.39},{"s":"D10","t":17.96,"v":0.41},{"s":"D10","t":18.0,"v":0.38},{"s":"D10","t":18.04,"v":0.39},{"s":"D10","t":18.08,"v":0.37},{"s":"D10","t":18.12,"v":0.38},{"s":"D10","t":18.16,"v":0.36},{"s":"D10","t":18.2,"v":0.37},
{"s":"D11","t":18.3,"v":0.52},{"s":"D11","t":18.32,"v":0.58},{"s":"D11","t":18.34,"v":0.6},{"s":"D11","t":18.36,"v":0.68},{"s":"D11","t":18.38,"v":0.72},{"s":"D11","t":18.4,"v":0.77},{"s":"D11","t":18.42,"v":0.85},{"s":"D11","t":18.44,"v":0.8},{"s":"D11","t":18.46,"v":0.9},{"s":"D11","t":18.48,"v":1.0},{"s":"D11","t":18.5,"v":1.1},{"s":"D11","t":18.52,"v":1.05},{"s":"D11","t":18.54,"v":1.18},{"s":"D11","t":18.56,"v":1.23},{"s":"D11","t":18.58,"v":1.1},{"s":"D11","t":18.6,"v":0.95},{"s":"D11","t":18.62,"v":0.82},{"s":"D11","t":18.64,"v":0.85},{"s":"D11","t":18.66,"v":0.72},{"s":"D11","t":18.68,"v":0.74},{"s":"D11","t":18.7,"v":0.65},{"s":"D11","t":18.72,"v":0.7},{"s":"D11","t":18.74,"v":0.62},{"s":"D11","t":18.76,"v":0.72},{"s":"D11","t":18.78,"v":0.67},{"s":"D11","t":18.8,"v":0.6},{"s":"D11","t":18.82,"v":0.63},{"s":"D11","t":18.85,"v":0.58},{"s":"D11","t":18.88,"v":0.62},{"s":"D11","t":18.91,"v":0.55},{"s":"D11","t":18.94,"v":0.57},{"s":"D11","t":18.98,"v":0.52},{"s":"D11","t":19.02,"v":0.54},{"s":"D11","t":19.06,"v":0.5},{"s":"D11","t":19.1,"v":0.52},{"s":"D11","t":19.15,"v":0.48},{"s":"D11","t":19.2,"v":0.5},{"s":"D11","t":19.28,"v":0.47},
{"s":"D12","t":18.05,"v":0.35},{"s":"D12","t":18.1,"v":0.355},{"s":"D12","t":18.15,"v":0.35},{"s":"D12","t":18.2,"v":0.35},{"s":"D12","t":18.25,"v":0.36},{"s":"D12","t":18.29,"v":0.375},{"s":"D12","t":18.33,"v":0.35},{"s":"D12","t":18.38,"v":0.355},{"s":"D12","t":18.43,"v":0.35},{"s":"D12","t":18.48,"v":0.36},{"s":"D12","t":18.51,"v":0.45},{"s":"D12","t":18.54,"v":0.8},{"s":"D12","t":18.57,"v":1.2},{"s":"D12","t":18.6,"v":1.35},{"s":"D12","t":18.63,"v":1.5},{"s":"D12","t":18.65,"v":1.2},{"s":"D12","t":18.67,"v":0.8},{"s":"D12","t":18.7,"v":0.5},{"s":"D12","t":18.73,"v":0.4},{"s":"D12","t":18.76,"v":0.37},{"s":"D12","t":18.8,"v":0.36},{"s":"D12","t":18.86,"v":0.355},{"s":"D12","t":18.92,"v":0.37},{"s":"D12","t":18.96,"v":0.36},{"s":"D12","t":19.02,"v":0.35},{"s":"D12","t":19.1,"v":0.355},{"s":"D12","t":19.18,"v":0.36},{"s":"D12","t":19.28,"v":0.355}
],
"lab": [
{"p":"A","k":"pk","label":"DOM-1","t":1.76,"v":0.8},
{"p":"A","k":"pk","label":"AFG2","t":3.29,"v":1.13},
{"p":"A","k":"pk","label":"AFM1","t":3.58,"v":0.836},
{"p":"A","k":"pk","label":"AFG1","t":4.22,"v":0.566},
{"p":"A","k":"pk","label":"AFB2","t":5.88,"v":0.368},
{"p":"A","k":"pk","label":"AFB1","t":6.44,"v":0.634},
{"p":"A","k":"pk","label":"HT-2","t":11.8,"v":0.426},
{"p":"A","k":"pk","label":"OTB","t":14.1,"v":0.988},
{"p":"A","k":"pk","label":"T-2","t":15.5,"v":0.48},
{"p":"A","k":"pk","label":"ZEA","t":17.48,"v":0.845},
{"p":"A","k":"pk","label":"OTA-d5","t":18.2,"v":0.58},
{"p":"A","k":"pk","label":"STER","t":18.46,"v":1.546},
{"p":"A","k":"ttl","label":"Calibrator Q","t":2.1,"v":1.713},
{"p":"B","k":"pk","label":"STER","t":18.28,"v":1.35},
{"p":"B","k":"pk","label":"OTA","t":18.63,"v":1.625},
{"p":"B","k":"ttl","label":"Plasma sample Q","t":2.22,"v":2.061},
{"p":"C","k":"ttl","label":"Calibrator q","t":2.1,"v":1.652},
{"p":"D","k":"ttl","label":"Plasma sample q","t":2.12,"v":2.05}
]
},
"spacing": 0,
"vconcat": [
{"spacing": 3, "resolve": {"scale": {"color": "independent"}}, "hconcat": [
 {"width": 567, "height": 354,
  "encoding": {
   "x": {"field": "t", "type": "quantitative", "scale": {"domain": [1.2, 19.28], "nice": false, "zero": false}, "axis": null},
   "y": {"field": "v", "type": "quantitative", "scale": {"domain": [-0.01, 1.784], "nice": false, "zero": false},
         "axis": {"values": [0,0.1,0.2,0.3,0.4,0.5,0.6,0.7,0.8,0.9,1,1.1,1.2,1.3,1.4,1.5,1.6], "format": "~g", "labelFontSize": 9, "labelPadding": 1, "minExtent": 40, "maxExtent": 40, "title": "x10³", "titleAngle": 0, "titleX": -28, "titleY": 10, "titleAlign": "left", "titleBaseline": "middle", "titleFontSize": 10, "titleFontWeight": "normal"}}
  },
  "layer": [
   {"data": {"name": "A"}, "mark": {"type": "line", "strokeWidth": 1.2, "clip": true},
    "encoding": {"color": {"field": "s", "type": "nominal", "legend": null,
      "scale": {"domain": ["A1","A2","A3","A4","A5","A6","A7","A8","A9","A10","A11","A12"], "range": ["#2e9a46","#8e2a8e","#4cc46a","#f0a830","#d43a3a","#22228a","#9a3a9a","#eda838","#d63a3a","#9a2a9a","#3cbf5c","#1a1a1a"]}}}},
   {"data": {"name": "lab"}, "transform": [{"filter": "datum.p==='A' && datum.k==='pk'"}], "mark": {"type": "text", "angle": 270, "align": "left", "baseline": "middle", "font": "Liberation Serif", "fontSize": 11, "color": "#333"}, "encoding": {"text": {"field": "label"}}},
   {"data": {"name": "lab"}, "transform": [{"filter": "datum.p==='A' && datum.k==='ttl'"}], "mark": {"type": "text", "align": "left", "baseline": "middle", "font": "Liberation Serif", "fontSize": 17, "fontWeight": "bold", "color": "#111"}, "encoding": {"text": {"field": "label"}}}
  ]},
 {"width": 567, "height": 354,
  "encoding": {
   "x": {"field": "t", "type": "quantitative", "scale": {"domain": [1.2, 19.28], "nice": false, "zero": false}, "axis": null},
   "y": {"field": "v", "type": "quantitative", "scale": {"domain": [0.286, 2.142], "nice": false, "zero": false},
         "axis": {"values": [0.3,0.4,0.5,0.6,0.7,0.8,0.9,1,1.1,1.2,1.3,1.4,1.5,1.6,1.7,1.8,1.9,2], "format": "~g", "labelFontSize": 9, "labelPadding": 1, "minExtent": 28, "maxExtent": 28, "title": "x10²", "titleAngle": 0, "titleX": -28, "titleY": 11, "titleAlign": "left", "titleBaseline": "middle", "titleFontSize": 10, "titleFontWeight": "normal"}}
  },
  "layer": [
   {"data": {"name": "B"}, "mark": {"type": "line", "strokeWidth": 1.2, "clip": true},
    "encoding": {"color": {"field": "s", "type": "nominal", "legend": null,
      "scale": {"domain": ["B1","B2","B3","B4","B5","B6","B7","B8","B9","B10","B11","B12"], "range": ["#1a1a1a","#1e8a30","#8e2c8e","#3cbf5c","#e020c8","#d42a2a","#1e8a30","#3cbf5c","#e020c8","#1e2a8e","#e020c8","#3cbf5c"]}}}},
   {"data": {"name": "lab"}, "transform": [{"filter": "datum.p==='B' && datum.k==='pk'"}], "mark": {"type": "text", "angle": 270, "align": "left", "baseline": "middle", "font": "Liberation Serif", "fontSize": 11, "color": "#333"}, "encoding": {"text": {"field": "label"}}},
   {"data": {"name": "lab"}, "transform": [{"filter": "datum.p==='B' && datum.k==='ttl'"}], "mark": {"type": "text", "align": "left", "baseline": "middle", "font": "Liberation Serif", "fontSize": 17, "fontWeight": "bold", "color": "#111"}, "encoding": {"text": {"field": "label"}}}
  ]}
]},
{"spacing": 3, "resolve": {"scale": {"color": "independent"}}, "hconcat": [
 {"width": 567, "height": 354,
  "encoding": {
   "x": {"field": "t", "type": "quantitative", "scale": {"domain": [1.2, 19.28], "nice": false, "zero": false},
         "axis": {"values": [2,3,4,5,6,7,8,9,10,11,12,13,14,15,16,17,18,19], "format": "d", "labelFontSize": 9.5, "labelPadding": 2, "title": "Counts vs. Acquisition Time (min)", "titleFontSize": 10, "titleFontWeight": "normal", "titlePadding": 4}},
   "y": {"field": "v", "type": "quantitative", "scale": {"domain": [-0.015, 1.73], "nice": false, "zero": false},
         "axis": {"values": [0,0.1,0.2,0.3,0.4,0.5,0.6,0.7,0.8,0.9,1,1.1,1.2,1.3,1.4,1.5,1.6], "format": "~g", "labelFontSize": 9, "labelPadding": 1, "minExtent": 40, "maxExtent": 40, "title": "x10³", "titleAngle": 0, "titleX": -28, "titleY": 11, "titleAlign": "left", "titleBaseline": "middle", "titleFontSize": 10, "titleFontWeight": "normal"}}
  },
  "layer": [
   {"data": {"name": "C"}, "mark": {"type": "line", "strokeWidth": 1.2, "clip": true},
    "encoding": {"color": {"field": "s", "type": "nominal", "legend": null,
      "scale": {"domain": ["C1","C2","C3","C4","C5","C6","C7","C8","C9","C10","C11","C12"], "range": ["#2a2a7a","#a83c3c","#38a8dc","#d444c8","#222222","#2e8e3e","#a85a5a","#e028c8","#222222","#a84a4a","#3a9ad8","#e02424"]}}}},
   {"data": {"name": "lab"}, "transform": [{"filter": "datum.p==='C' && datum.k==='ttl'"}], "mark": {"type": "text", "align": "left", "baseline": "middle", "font": "Liberation Serif", "fontSize": 17, "fontWeight": "bold", "color": "#111"}, "encoding": {"text": {"field": "label"}}}
  ]},
 {"width": 567, "height": 354,
  "encoding": {
   "x": {"field": "t", "type": "quantitative", "scale": {"domain": [1.2, 19.28], "nice": false, "zero": false},
         "axis": {"values": [2,3,4,5,6,7,8,9,10,11,12,13,14,15,16,17,18,19], "format": "d", "labelFontSize": 9.5, "labelPadding": 2, "title": "Counts vs. Acquisition Time (min)", "titleFontSize": 10, "titleFontWeight": "normal", "titlePadding": 4}},
   "y": {"field": "v", "type": "quantitative", "scale": {"domain": [0.281, 2.132], "nice": false, "zero": false},
         "axis": {"values": [0.3,0.4,0.5,0.6,0.7,0.8,0.9,1,1.1,1.2,1.3,1.4,1.5,1.6,1.7,1.8,1.9,2], "format": "~g", "labelFontSize": 9, "labelPadding": 1, "minExtent": 28, "maxExtent": 28, "title": "x10²", "titleAngle": 0, "titleX": -28, "titleY": 11, "titleAlign": "left", "titleBaseline": "middle", "titleFontSize": 10, "titleFontWeight": "normal"}}
  },
  "layer": [
   {"data": {"name": "D"}, "mark": {"type": "line", "strokeWidth": 1.2, "clip": true},
    "encoding": {"color": {"field": "s", "type": "nominal", "legend": null,
      "scale": {"domain": ["D1","D2","D3","D4","D5","D6","D7","D8","D9","D10","D11","D12"], "range": ["#d42a2a","#22229a","#b040b0","#3aa8da","#e8a020","#1a1a1a","#2a2a8a","#3aa8da","#e8a020","#1e8a30","#f0a020","#3aa8da"]}}}},
   {"data": {"name": "lab"}, "transform": [{"filter": "datum.p==='D' && datum.k==='ttl'"}], "mark": {"type": "text", "align": "left", "baseline": "middle", "font": "Liberation Serif", "fontSize": 17, "fontWeight": "bold", "color": "#111"}, "encoding": {"text": {"field": "label"}}}
  ]}
]}
],
"resolve": {"scale": {"color": "independent"}}
}
